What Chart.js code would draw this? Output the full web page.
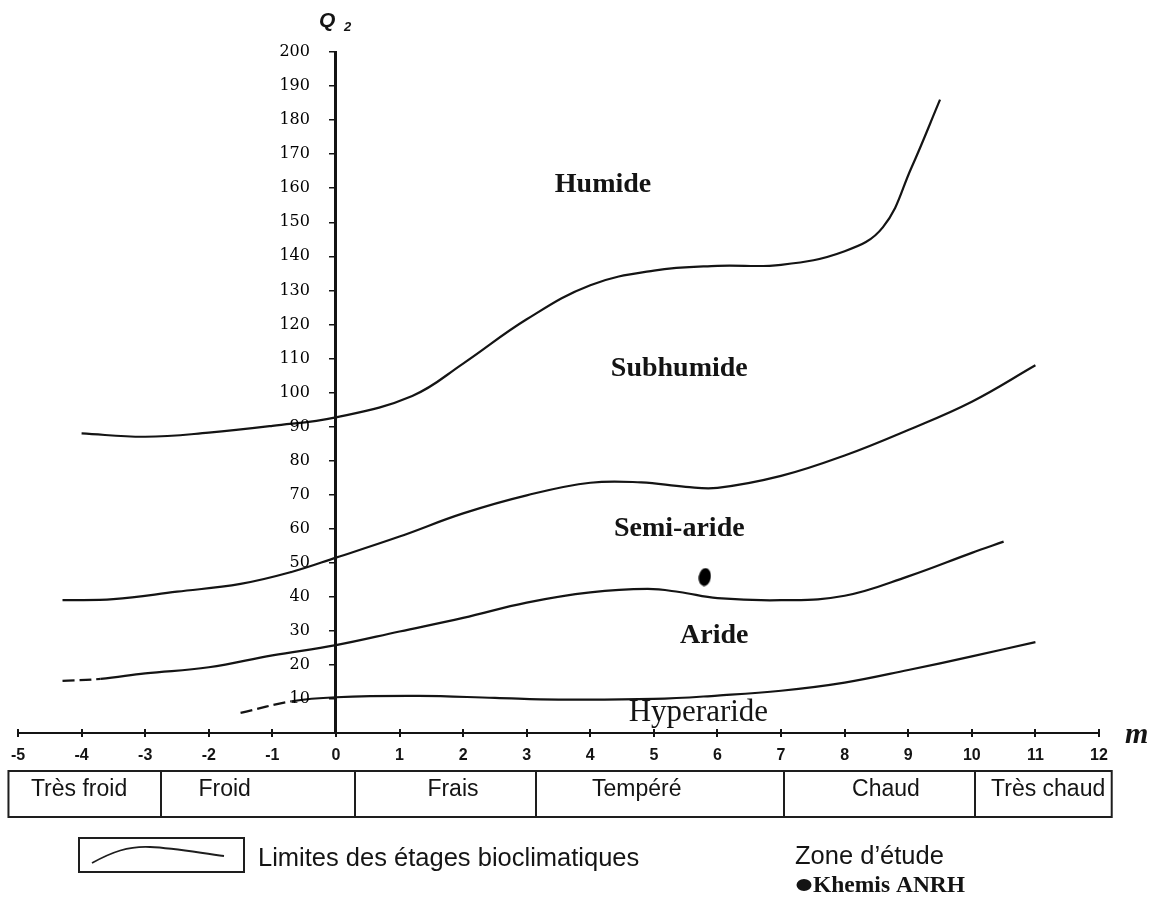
<!DOCTYPE html>
<html>
<head>
<meta charset="utf-8">
<script src="https://cdn.jsdelivr.net/npm/chart.js@4.4.1/dist/chart.umd.min.js"></script>
<style>
  html, body { margin: 0; padding: 0; background: #ffffff; }
  #wrap { width: 1159px; height: 897px; position: relative; }
</style>
</head>
<body>
<div id="wrap"><canvas id="climagramme"></canvas></div>
<script>
// Emberger climagram: m (°C, mean minimum of the coldest month) against Q2.

// Humide / Subhumide limit
const limitHumideM = [-4.0, -3.0, -2.0, -1.0, 0.0, 1.2, 2.0, 3.0, 4.0, 5.0, 6.0, 7.0, 8.0, 8.6, 9.05, 9.5];
const limitHumideQ = [88.0, 87.0, 88.2, 90.2, 92.7, 99.0, 108.5, 121.5, 131.5, 135.8, 137.2, 137.5, 141.5, 148.5, 166.0, 186.0];

// Subhumide / Semi-aride limit
const limitSubhumideM = [-4.3, -3.5, -2.5, -1.5, -0.7, 0.0, 1.0, 2.0, 3.0, 4.0, 4.8, 5.5, 6.0, 7.0, 8.0, 9.0, 10.0, 11.0];
const limitSubhumideQ = [39.0, 39.3, 41.5, 43.8, 47.3, 51.5, 57.7, 64.5, 69.8, 73.5, 73.6, 72.3, 72.0, 75.5, 81.5, 89.0, 97.3, 108.0];

// Semi-aride / Aride limit
const limitSemiArideM = [-4.3, -3.7, -3.0, -2.0, -1.0, 0.0, 1.0, 2.0, 3.0, 4.0, 4.9, 5.4, 6.0, 7.0, 8.0, 9.0, 10.0, 10.5];
const limitSemiArideQ = [15.3, 15.9, 17.5, 19.3, 22.8, 25.8, 29.8, 33.8, 38.3, 41.3, 42.3, 41.4, 39.6, 39.0, 40.3, 46.0, 52.9, 56.2];

// Aride / Hyperaride limit
const limitArideM = [-1.5, -0.7, 0.0, 1.3, 2.5, 3.5, 5.0, 6.0, 7.0, 8.0, 9.0, 10.0, 11.0];
const limitArideQ = [5.9, 9.3, 10.5, 10.9, 10.3, 9.8, 10.0, 11.0, 12.4, 14.8, 18.5, 22.5, 26.7];

// Study station
const stationName = 'Khemis ANRH';
const stationM = [5.8];
const stationQ = [45.8];

// Bioclimatic zones and winter temperature classes
const zoneNames = ['Humide', 'Subhumide', 'Semi-aride', 'Aride', 'Hyperaride'];
const classNames = ['Très froid', 'Froid', 'Frais', 'Tempéré', 'Chaud', 'Très chaud'];
const classEdges = [-5.15, -2.75, 0.3, 3.15, 7.05, 10.05, 12.2];

// Axis ticks
const mTicks = [-5, -4, -3, -2, -1, 0, 1, 2, 3, 4, 5, 6, 7, 8, 9, 10, 11, 12];
const qTicks = [0, 10, 20, 30, 40, 50, 60, 70, 80, 90, 100, 110, 120, 130, 140, 150, 160, 170, 180, 190, 200];

const toPoints = (xs, ys) => xs.map((x, i) => ({ x: x, y: ys[i] }));

const INK = '#141414';
const SANS = '"Liberation Sans", Arial, sans-serif';
const SERIF = '"Liberation Serif", "Times New Roman", serif';

// Where the zone names and class names sit, in (m, Q2) units
const zoneLabelAt = [[4.2, 161], [5.4, 107], [5.4, 60], [5.95, 28.5], [5.7, 6.0]];
const zoneLabelFont = ['bold 28px', 'bold 28px', 'bold 28px', 'bold 28px', '31px'];
const classLabelAt = [-4.04, -1.75, 1.84, 4.73, 8.65, 11.2];

// Filled oval marker for the station
function ovalMarker(w, h) {
  const c = document.createElement('canvas');
  c.width = w; c.height = h;
  const g = c.getContext('2d');
  g.fillStyle = '#000';
  g.beginPath();
  g.ellipse(w / 2, h / 2, w / 2 - 0.5, h / 2 - 0.5, 0.15, 0, Math.PI * 2);
  g.fill();
  return c;
}

const dashFirst = { borderDash: ctx => ctx.p0DataIndex === 0 ? [12, 5] : undefined };

function limitDataset(label, xs, ys, dashed) {
  return {
    label: label,
    data: toPoints(xs, ys),
    showLine: true,
    borderColor: INK,
    borderWidth: 2.2,
    pointRadius: 0,
    pointHoverRadius: 0,
    tension: 0.4,
    fill: false,
    segment: dashed ? dashFirst : undefined
  };
}

const annotations = {
  id: 'annotations',
  afterDraw(chart) {
    const ctx = chart.ctx;
    const xs = chart.scales.x, ys = chart.scales.y;
    const axisX = xs.getPixelForValue(0);
    const axisY = ys.getPixelForValue(0);
    ctx.save();
    ctx.fillStyle = INK;
    ctx.strokeStyle = INK;

    // Q2 tick labels, left of the vertical axis
    ctx.fillStyle = '#000';
    ctx.font = '16px "DejaVu Serif", serif';
    ctx.textAlign = 'right';
    ctx.textBaseline = 'middle';
    qTicks.forEach(v => {
      if (v !== 0) ctx.fillText(String(v), axisX - 26, ys.getPixelForValue(v));
    });
    ctx.fillStyle = INK;

    // upper half of the m tick marks
    ctx.lineWidth = 2;
    ctx.beginPath();
    mTicks.forEach(v => {
      const px = Math.round(xs.getPixelForValue(v));
      ctx.moveTo(px, axisY - 4);
      ctx.lineTo(px, axisY);
    });
    ctx.stroke();

    // Zone names
    ctx.textAlign = 'center';
    ctx.textBaseline = 'middle';
    zoneNames.forEach((name, i) => {
      ctx.font = zoneLabelFont[i] + ' ' + SERIF;
      ctx.fillText(name, xs.getPixelForValue(zoneLabelAt[i][0]), ys.getPixelForValue(zoneLabelAt[i][1]));
    });

    // Axis titles
    ctx.textAlign = 'left';
    ctx.textBaseline = 'alphabetic';
    ctx.font = 'bold italic 21px ' + SANS;
    ctx.fillText('Q', 319, 27);
    ctx.font = 'bold italic 13px ' + SANS;
    ctx.fillText('2', 344, 31);
    ctx.font = 'bold italic 30px ' + SERIF;
    ctx.fillText('m', 1125, 743);

    // Temperature class table
    const top = 771, bottom = 817;
    const left = xs.getPixelForValue(classEdges[0]);
    const right = xs.getPixelForValue(classEdges[classEdges.length - 1]);
    ctx.lineWidth = 2;
    ctx.strokeStyle = '#1e1e1e';
    ctx.strokeRect(left, top, right - left, bottom - top);
    ctx.beginPath();
    for (let i = 1; i < classEdges.length - 1; i++) {
      const px = Math.round(xs.getPixelForValue(classEdges[i]));
      ctx.moveTo(px, top);
      ctx.lineTo(px, bottom);
    }
    ctx.stroke();
    ctx.font = '23px ' + SANS;
    ctx.textAlign = 'center';
    ctx.textBaseline = 'middle';
    classNames.forEach((name, i) => {
      ctx.fillText(name, xs.getPixelForValue(classLabelAt[i]), 790);
    });

    // Legend: line sample
    ctx.lineWidth = 2;
    ctx.strokeRect(79, 838, 165, 34);
    ctx.beginPath();
    ctx.lineWidth = 1.8;
    ctx.moveTo(92, 863);
    ctx.bezierCurveTo(112, 852, 128, 846, 150, 847);
    ctx.bezierCurveTo(175, 848, 200, 853, 224, 856);
    ctx.stroke();
    ctx.textAlign = 'left';
    ctx.textBaseline = 'alphabetic';
    ctx.font = '25.5px ' + SANS;
    ctx.fillText('Limites des étages bioclimatiques', 258, 866);

    // Legend: station
    ctx.fillText('Zone d\u2019étude', 795, 864);
    ctx.beginPath();
    ctx.ellipse(804, 885, 7.5, 6, 0, 0, Math.PI * 2);
    ctx.fill();
    ctx.font = 'bold 23.5px ' + SERIF;
    ctx.fillText(stationName, 813, 892);
    ctx.restore();
  }
};

new Chart(document.getElementById('climagramme'), {
  type: 'scatter',
  data: {
    datasets: [
      limitDataset('Humide / Subhumide', limitHumideM, limitHumideQ, false),
      limitDataset('Subhumide / Semi-aride', limitSubhumideM, limitSubhumideQ, false),
      limitDataset('Semi-aride / Aride', limitSemiArideM, limitSemiArideQ, true),
      limitDataset('Aride / Hyperaride', limitArideM, limitArideQ, true),
      {
        label: stationName,
        data: toPoints(stationM, stationQ),
        pointStyle: ovalMarker(13, 19),
        pointRadius: 9,
        showLine: false
      }
    ]
  },
  plugins: [annotations],
  options: {
    responsive: true,
    maintainAspectRatio: false,
    animation: false,
    events: [],
    layout: { padding: { left: 18, right: 60, top: 52, bottom: 124 } },
    plugins: {
      legend: { display: false },
      tooltip: { enabled: false }
    },
    scales: {
      x: {
        type: 'linear',
        min: mTicks[0],
        max: mTicks[mTicks.length - 1],
        afterFit: s => { s.height = 40; },
        afterBuildTicks: s => { s.ticks = mTicks.map(v => ({ value: v })); },
        ticks: {
          color: INK,
          padding: 9,
          font: { family: SANS, size: 16, weight: 'bold' },
          callback: v => String(v)
        },
        grid: { drawOnChartArea: false, drawTicks: true, tickLength: 4, color: INK, lineWidth: 2 },
        border: { color: INK, width: 2 }
      },
      y: {
        type: 'linear',
        position: { x: 0 },
        min: qTicks[0],
        max: qTicks[qTicks.length - 1],
        afterBuildTicks: s => { s.ticks = qTicks.map(v => ({ value: v })); },
        ticks: { display: false },
        grid: { drawOnChartArea: false, drawTicks: true, tickLength: 5, color: INK, lineWidth: 1.5 },
        border: { color: INK, width: 3 }
      }
    }
  }
});
</script>
</body>
</html>
